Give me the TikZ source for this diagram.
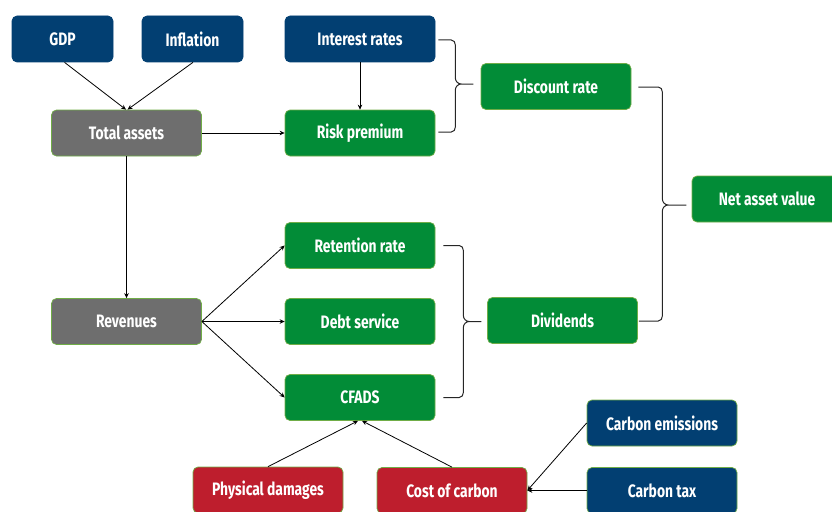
\documentclass[tikz,border=0pt]{standalone}
\usepackage{fontspec}
\setmainfont{Fira Sans}[FakeStretch=0.77]
\usetikzlibrary{arrows.meta,calc}
\definecolor{cblue}{HTML}{023F72}
\definecolor{cgreen}{HTML}{028C37}
\definecolor{cgray}{HTML}{6E6E6E}
\definecolor{cred}{HTML}{BE1E2D}
\definecolor{cedge}{HTML}{70AD47}
\newcommand{\bracepath}[5]{%
  \draw[bracestyle] let \p1=(#1), \p2=(#2), \n1={\x1+#3}, \n2={(\y1+\y2)/2}, \n3={\x1+#4} in
    (\x1,\y1) -- (\n1-4pt,\y1) to[out=0,in=90] (\n1,\y1-5pt) -- (\n1,\n2+#5+6pt)
    to[out=-90,in=180] (\n1+6pt,\n2+#5) -- (\n3,\n2+#5)
    (\n1+6pt,\n2+#5) to[out=180,in=90] (\n1,\n2+#5-6pt) -- (\n1,\y2+5pt)
    to[out=-90,in=0] (\n1-4pt,\y2) -- (\x2,\y2);}
\begin{document}
\begin{tikzpicture}[x=1pt,y=-1pt,
  box/.style={draw=cedge, line width=0.7pt, rounded corners=5pt, minimum height=46pt,
    minimum width=150pt, text=white, inner sep=0pt,
    font=\bfseries\fontsize{18}{20}\selectfont},
  bluebox/.style={box, fill=cblue, draw=cblue},
  greenbox/.style={box, fill=cgreen},
  graybox/.style={box, fill=cgray},
  redbox/.style={box, fill=cred},
  arr/.style={-{Stealth[length=5pt,width=4.5pt]}, line width=0.8pt, black},
  bracestyle/.style={line width=1pt, black!85}]
\useasboundingbox (0,0) rectangle (832,511);
% nodes
\node[bluebox, minimum width=101pt] (gdp) at (62.5,39) {GDP};
\node[bluebox, minimum width=101pt] (inf) at (192.5,39) {Inflation};
\node[bluebox] (ir) at (360,39) {Interest rates};
\node[graybox] (ta) at (126.5,133) {Total assets};
\node[greenbox] (rp) at (360,133) {Risk premium};
\node[greenbox] (dr) at (556,86.5) {Discount rate};
\node[greenbox] (nav) at (767,199) {Net asset value};
\node[greenbox] (rr) at (360,245.5) {Retention rate};
\node[graybox] (rev) at (126.5,321.5) {Revenues};
\node[greenbox] (ds) at (360,321.5) {Debt service};
\node[greenbox, minimum width=150pt] (div) at (562.5,320.5) {Dividends};
\node[greenbox] (cf) at (360,397.5) {CFADS};
\node[redbox] (pd) at (268,490) {Physical damages};
\node[redbox] (cc) at (452,490.5) {Cost of carbon};
\node[bluebox, draw=cedge] (ce) at (662,423) {Carbon emissions};
\node[bluebox, draw=cedge] (ct) at (662,490.5) {Carbon tax};
% arrows
\draw[arr] ($(gdp.south)+(2,0)$) -- ($(ta.north)+(-0.5,0)$);
\draw[arr] ($(inf.south)+(0.5,0)$) -- ($(ta.north)+(1,0)$);
\draw[arr] (ir.south) -- (rp.north);
\draw[arr] (ta.east) -- (rp.west);
\draw[arr] (ta.south) -- (rev.north);
\draw[arr] (rev.east) -- (rr.west);
\draw[arr] (rev.east) -- (ds.west);
\draw[arr] (rev.east) -- (cf.west);
\draw[arr] (pd.north) -- ($(cf.south)+(-2,0)$);
\draw[arr] (cc.north) -- ($(cf.south)+(2,0)$);
\draw[arr] (ce.west) -- (cc.east);
\draw[arr] (ct.west) -- (cc.east);
% braces
\bracepath{$(ir.east)+(3,1)$}{$(rp.east)+(3,-1)$}{17pt}{35pt}{2pt}
\bracepath{$(dr.east)+(7,0.5)$}{$(div.east)+(1,0.5)$}{24pt}{48pt}{-1pt}
\bracepath{$(rr.east)+(8,0)$}{$(cf.east)+(8,0)$}{20pt}{38pt}{0pt}
\end{tikzpicture}
\end{document}
